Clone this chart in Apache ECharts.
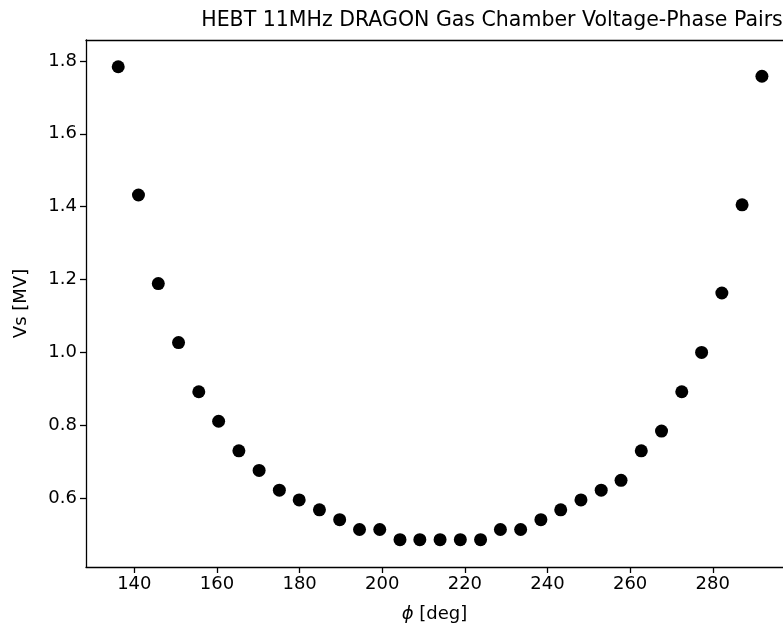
<!DOCTYPE html>
<html>
<head>
<meta charset="utf-8">
<script src="https://cdn.jsdelivr.net/npm/echarts@6/dist/echarts.min.js"></script>
<style>
  html, body { margin: 0; padding: 0; background: #fff; }
  #chart { width: 783px; height: 629px; }
</style>
</head>
<body>
<div id="chart"></div>
<script>
// phase [deg] and voltage [MV]
const phase = [
  136.1, 141.0, 145.8, 150.7, 155.6, 160.4, 165.3, 170.2, 175.1, 179.9, 184.8,
  189.7, 194.5, 199.4, 204.3, 209.1, 214.0, 218.9, 223.8, 228.6, 233.5, 238.4,
  243.2, 248.1, 253.0, 257.8, 262.7, 267.6, 272.5, 277.3, 282.2, 287.1, 291.9
];
const voltage = [
  1.784, 1.432, 1.189, 1.027, 0.892, 0.811, 0.730, 0.676, 0.622, 0.595, 0.568,
  0.541, 0.514, 0.514, 0.486, 0.486, 0.486, 0.486, 0.486, 0.514, 0.514, 0.541,
  0.568, 0.595, 0.622, 0.649, 0.730, 0.784, 0.892, 1.000, 1.163, 1.405, 1.758
];
const xTicks = [140, 160, 180, 200, 220, 240, 260, 280];
const yTicks = [0.6, 0.8, 1.0, 1.2, 1.4, 1.6, 1.8];

const FONT = 'DejaVu Sans';
const INK = '#000000';

// the axes box runs past the right edge of the picture, so no right spine
const X_MIN = 128.3;
const X_MAX = 297.0;

const chart = echarts.init(document.getElementById('chart'), null, { renderer: 'canvas' });

const axisLine = { show: true, onZero: false, lineStyle: { color: INK, width: 1.3 } };
const axisTick = { show: true, length: 6, lineStyle: { color: INK, width: 1.3 } };

chart.setOption({
  animation: false,
  backgroundColor: '#ffffff',
  title: {
    text: 'HEBT 11MHz DRAGON Gas Chamber Voltage-Phase Pairs',
    left: 487,
    top: 5,
    textAlign: 'center',
    textStyle: { fontFamily: FONT, fontSize: 20.5, fontWeight: 'normal', color: INK }
  },
  grid: { left: 86, right: 0, top: 40, bottom: 62 },
  xAxis: [
    {
      type: 'value',
      min: X_MIN,
      max: X_MAX,
      name: '{i|ϕ} [deg]',
      nameLocation: 'middle',
      nameGap: 38,
      nameTextStyle: {
        fontFamily: FONT, fontSize: 18, color: INK,
        rich: { i: { fontFamily: FONT, fontSize: 18, fontStyle: 'italic', color: INK } }
      },
      axisLine: axisLine,
      axisTick: { ...axisTick, customValues: xTicks },
      axisLabel: { customValues: xTicks, fontFamily: FONT, fontSize: 18, color: INK, margin: 8 },
      splitLine: { show: false }
    },
    {
      // top spine only
      type: 'value',
      position: 'top',
      min: X_MIN,
      max: X_MAX,
      axisLine: axisLine,
      axisTick: { show: false },
      axisLabel: { show: false },
      splitLine: { show: false }
    }
  ],
  yAxis: {
    type: 'value',
    min: 0.411,
    max: 1.8575,
    name: 'Vs [MV]',
    nameLocation: 'middle',
    nameGap: 56,
    nameTextStyle: { fontFamily: FONT, fontSize: 18, color: INK },
    axisLine: axisLine,
    axisTick: { ...axisTick, customValues: yTicks },
    axisLabel: {
      customValues: yTicks,
      fontFamily: FONT, fontSize: 18, color: INK, margin: 9,
      formatter: (v) => v.toFixed(1)
    },
    splitLine: { show: false }
  },
  series: [
    {
      type: 'scatter',
      xAxisIndex: 0,
      data: phase.map((p, i) => [p, voltage[i]]),
      symbol: 'circle',
      symbolSize: 13,
      itemStyle: { color: INK, opacity: 1 },
      clip: false
    }
  ]
});
</script>
</body>
</html>
